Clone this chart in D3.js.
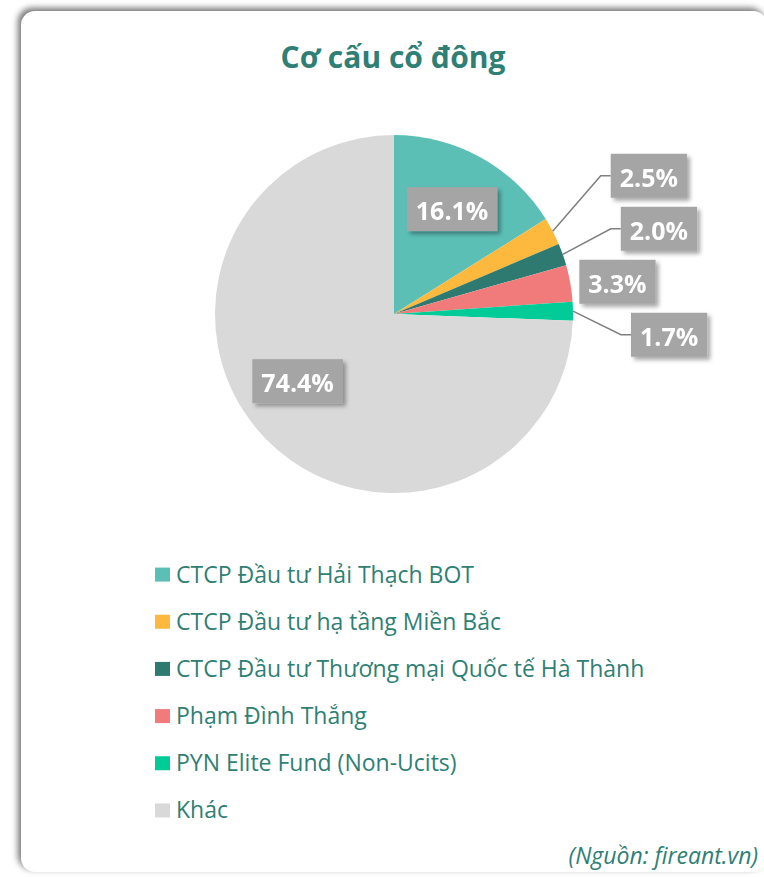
<!DOCTYPE html>
<html>
<head>
<meta charset="utf-8">
<script src="https://cdn.jsdelivr.net/npm/d3@7"></script>
<style>
  html, body { margin: 0; padding: 0; background: #fff; }
  .card {
    position: absolute; left: 21px; top: 11px; width: 746px; height: 861px;
    border-radius: 14px; background: #fff;
    box-shadow: -3px -3px 6px rgba(0,0,0,0.55);
  }
  svg { position: absolute; left: 0; top: 0; }
  text { font-family: "Open Sans", "Noto Sans", sans-serif; }
</style>
</head>
<body>
<div class="card"></div>
<svg width="764" height="877"></svg>
<script>
const names = [
  'CTCP Đầu tư Hải Thạch BOT',
  'CTCP Đầu tư hạ tầng Miền Bắc',
  'CTCP Đầu tư Thương mại Quốc tế Hà Thành',
  'Phạm Đình Thắng',
  'PYN Elite Fund (Non-Ucits)',
  'Khác'
];
const shares = [16.1, 2.5, 2.0, 3.3, 1.7, 74.4];
const colors = ['#5bbfb6', '#fdb93d', '#2e7a71', '#f17b7b', '#01cc98', '#d9d9d9'];

const title = 'Cơ cấu cổ đông';
const source = '(Nguồn: fireant.vn)';
const teal = '#2f7f75';

const cx = 394, cy = 314, r = 179;

const svg = d3.select('svg');

const defs = svg.append('defs');
defs.append('filter')
  .attr('id', 'shadow')
  .attr('x', '-20%').attr('y', '-20%')
  .attr('width', '150%').attr('height', '160%')
  .append('feDropShadow')
  .attr('dx', 3).attr('dy', 3)
  .attr('stdDeviation', 2)
  .attr('flood-color', '#000')
  .attr('flood-opacity', 0.35);

svg.append('text')
  .attr('x', 393)
  .attr('y', 68)
  .attr('text-anchor', 'middle')
  .attr('font-size', 30)
  .attr('font-weight', 700)
  .attr('fill', teal)
  .text(title);

const data = names.map((n, i) => ({name: n, value: shares[i], color: colors[i]}));

const pie = d3.pie().sort(null).value(d => d.value);
const arcs = pie(data);

const arc = d3.arc().innerRadius(0).outerRadius(r);
const labelArc = d3.arc().innerRadius(r * 0.67).outerRadius(r * 0.67);

const g = svg.append('g').attr('transform', `translate(${cx},${cy})`);

g.selectAll('path.slice')
  .data(arcs)
  .enter()
  .append('path')
  .attr('class', 'slice')
  .attr('d', arc)
  .attr('fill', d => d.data.color);

// labels: big slices inside, small slices outside on the right
const mid = d => (d.startAngle + d.endAngle) / 2;
const inside = arcs.filter(d => d.value >= 5);
const outside = arcs.filter(d => d.value < 5);

const outerR = r + 60, gap = 53;
outside.forEach(d => {
  d.edge = [r * Math.sin(mid(d)), -r * Math.cos(mid(d))];
  d.ly = -outerR * Math.cos(mid(d));
});
// stack small labels as a block around their mean
const meanY = d3.mean(outside, d => d.ly);
outside.forEach((d, i) => {
  d.ly = meanY + (i - (outside.length - 1) / 2) * gap;
});

function drawLabel(sel, x, y, txt, anchor) {
  const lg = sel.append('g').attr('filter', 'url(#shadow)');
  const rect = lg.append('rect').attr('fill', '#a5a5a5');
  const t = lg.append('text')
    .attr('font-size', 25)
    .attr('font-weight', 700)
    .attr('fill', '#fff')
    .attr('dominant-baseline', 'central')
    .text(txt);
  const w = t.node().getComputedTextLength() + 18, h = 44;
  const left = anchor === 'middle' ? x - w / 2 : x;
  t.attr('x', left + 9).attr('y', y + 1);
  rect.attr('x', left).attr('y', y - h / 2).attr('width', w).attr('height', h);
}

inside.forEach(d => {
  let [x, y] = labelArc.centroid(d);
  // the big grey slice's label sits a little higher in the original
  if (d.value > 50) { x -= 10; y -= 16; }
  drawLabel(g, x, y, d3.format('.1f')(d.value) + '%', 'middle');
});

outside.forEach(d => {
  const [ex, ey] = d.edge;
  if (Math.abs(d.ly - ey) < 10) {
    drawLabel(g, ex + 9, d.ly, d3.format('.1f')(d.value) + '%', 'start');
  } else {
    const bx = ex + 48;
    g.append('polyline')
      .attr('points', `${ex},${ey} ${bx},${d.ly} ${bx + 10},${d.ly}`)
      .attr('fill', 'none')
      .attr('stroke', '#7f7f7f')
      .attr('stroke-width', 1.5);
    drawLabel(g, bx + 10, d.ly, d3.format('.1f')(d.value) + '%', 'start');
  }
});

// legend
const legY = d3.scaleBand().domain(names).range([551, 834]);
const legend = svg.append('g')
  .selectAll('g')
  .data(data)
  .enter()
  .append('g')
  .attr('transform', d => `translate(155,${legY(d.name) + legY.bandwidth() / 2})`);

legend.append('rect')
  .attr('x', 0).attr('y', -7)
  .attr('width', 15).attr('height', 14)
  .attr('fill', d => d.color);

legend.append('text')
  .attr('x', 21)
  .attr('y', -1)
  .attr('dominant-baseline', 'central')
  .attr('font-size', 23)
  .attr('fill', teal)
  .text(d => d.name);

svg.append('text')
  .attr('x', 758)
  .attr('y', 864)
  .attr('text-anchor', 'end')
  .attr('font-size', 23)
  .attr('font-style', 'italic')
  .attr('fill', teal)
  .text(source);
</script>
</body>
</html>
